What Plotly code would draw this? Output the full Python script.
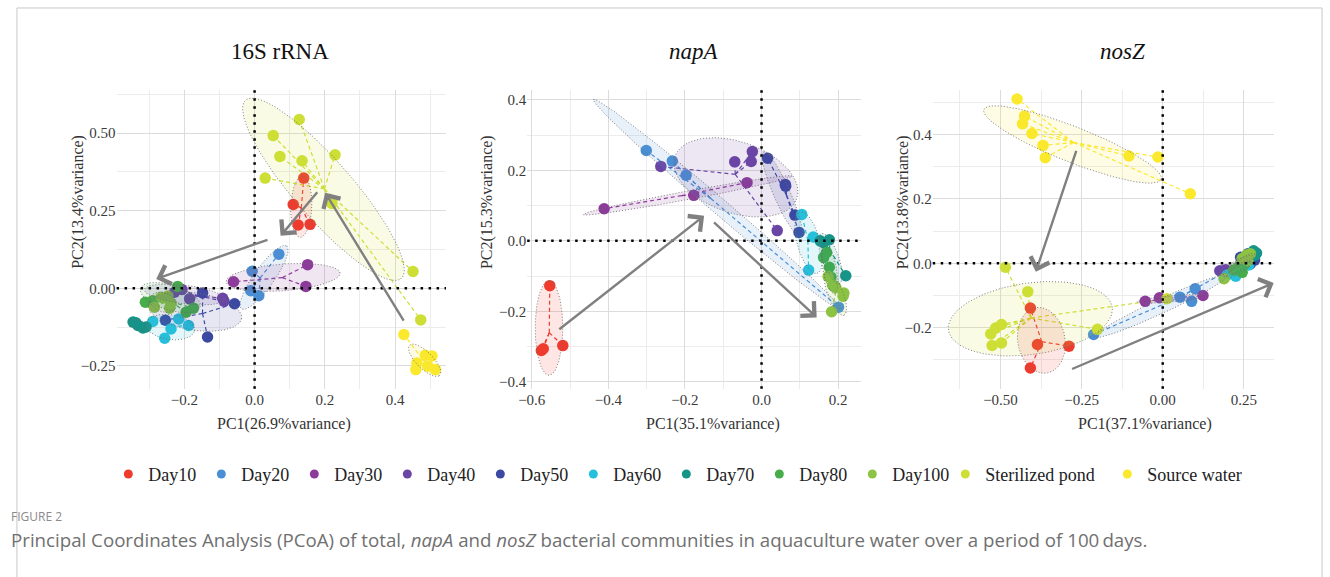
import numpy as np
import plotly.graph_objects as go

W, H = 1330, 577

GROUPS = ["Day10", "Day20", "Day30", "Day40", "Day50", "Day60", "Day70",
          "Day80", "Day100", "Sterilized pond", "Source water"]
COLORS = {
    "Day10": "#ee3b2e", "Day20": "#4a8fd4", "Day30": "#8d3b9b", "Day40": "#6b45a6",
    "Day50": "#3b49a3", "Day60": "#27c0dc", "Day70": "#159488", "Day80": "#46ad4a",
    "Day100": "#8cc343", "Sterilized pond": "#cddf34", "Source water": "#fbe92d",
}

# ---------------- 16S rRNA ----------------
S16_X = {
    "Day10": [0.140, 0.110, 0.124, 0.158],
    "Day20": [0.069, -0.007, -0.011, 0.012],
    "Day30": [0.151, -0.060, 0.146],
    "Day40": [-0.228, -0.207, -0.185, -0.091, -0.087],
    "Day50": [-0.148, -0.057, -0.134, -0.254],
    "Day60": [-0.290, -0.216, -0.238, -0.188, -0.256],
    "Day70": [-0.346, -0.332, -0.318, -0.309, -0.338],
    "Day80": [-0.219, -0.311, -0.290, -0.174, -0.195],
    "Day100": [-0.266, -0.238, -0.242, -0.285, -0.247],
    "Sterilized pond": [0.127, 0.053, 0.072, 0.135, 0.229, 0.030, 0.220, 0.451, 0.473],
    "Source water": [0.425, 0.486, 0.505, 0.462, 0.493, 0.459, 0.515],
}
S16_Y = {
    "Day10": [0.355, 0.270, 0.204, 0.206],
    "Day20": [0.110, 0.055, -0.008, -0.024],
    "Day30": [0.076, 0.021, 0.006],
    "Day40": [-0.013, -0.004, -0.034, -0.032, -0.042],
    "Day50": [-0.015, -0.050, -0.157, -0.103],
    "Day60": [-0.107, -0.099, -0.131, -0.120, -0.161],
    "Day70": [-0.109, -0.120, -0.128, -0.125, -0.111],
    "Day80": [0.006, -0.045, -0.040, -0.064, -0.077],
    "Day100": [-0.029, -0.048, -0.064, -0.061, -0.025],
    "Sterilized pond": [0.544, 0.492, 0.425, 0.411, 0.430, 0.355, 0.273, 0.054, -0.102],
    "Source water": [-0.149, -0.216, -0.218, -0.241, -0.251, -0.262, -0.262],
}
# ellipse: centre x, centre y, semi-axis a, semi-axis b, angle (deg)
S16_ELL = {
    "Sterilized pond": (0.196, 0.319, 0.363, 0.087, -52.8),
    "Day10": (0.133, 0.263, 0.099, 0.030, 88),
    "Day20": (0.027, 0.035, 0.120, 0.030, 58),
    "Day30": (0.081, 0.035, 0.163, 0.043, 5),
    "Day40": (-0.200, -0.020, 0.115, 0.030, -8),
    "Day50": (-0.170, -0.075, 0.135, 0.060, -10),
    "Day60": (-0.240, -0.125, 0.070, 0.040, -10),
    "Day70": (-0.330, -0.118, 0.030, 0.015, -20),
    "Day80": (-0.240, -0.030, 0.090, 0.040, -20),
    "Day100": (-0.260, -0.045, 0.040, 0.030, -30),
    "Source water": (0.484, -0.232, 0.065, 0.025, -50),
}
S16_ARROWS = [(0.427, -0.109, 0.201, 0.308), (0.182, 0.314, 0.074, 0.169),
              (0.041, 0.158, -0.280, 0.030)]

# ---------------- napA ----------------
NAPA_X = {
    "Day10": [-0.553, -0.575, -0.570, -0.519],
    "Day20": [-0.301, -0.233, -0.197, 0.201],
    "Day30": [-0.411, -0.177, -0.038],
    "Day40": [-0.263, -0.070, -0.024, -0.027, 0.041],
    "Day50": [0.016, 0.062, 0.063, 0.087, 0.098],
    "Day60": [0.105, 0.135, 0.123],
    "Day70": [0.153, 0.177, 0.162, 0.220],
    "Day80": [0.170, 0.162, 0.177, 0.181, 0.187],
    "Day100": [0.174, 0.186, 0.194, 0.215, 0.213, 0.183],
}
NAPA_Y = {
    "Day10": [-0.127, -0.311, -0.306, -0.297],
    "Day20": [0.256, 0.226, 0.186, -0.188],
    "Day30": [0.091, 0.129, 0.165],
    "Day40": [0.211, 0.224, 0.253, 0.225, 0.029],
    "Day50": [0.234, 0.160, 0.155, 0.073, 0.024],
    "Day60": [0.075, 0.011, -0.083],
    "Day70": [0.000, 0.003, -0.005, -0.099],
    "Day80": [-0.033, -0.047, -0.075, -0.103, -0.127],
    "Day100": [-0.101, -0.125, -0.132, -0.148, -0.157, -0.201],
}
NAPA_ELL = {
    "Day10": (-0.555, -0.247, 0.134, 0.036, 90),
    "Day20": (-0.117, 0.104, 0.438, 0.022, -42.7),
    "Day30": (-0.193, 0.129, 0.278, 0.012, 11.3),
    "Day40": (-0.067, 0.180, 0.170, 0.100, -22),
    "Day50": (0.054, 0.132, 0.130, 0.022, -68),
    "Day60": (0.123, -0.005, 0.090, 0.030, -76),
    "Day70": (0.180, -0.050, 0.075, 0.022, -72),
    "Day80": (0.178, -0.080, 0.070, 0.018, -80),
    "Day100": (0.193, -0.150, 0.065, 0.020, -70),
}
NAPA_ARROWS = [(-0.532, -0.254, -0.150, 0.071), (-0.128, 0.056, 0.144, -0.217)]

# ---------------- nosZ ----------------
NOSZ_X = {
    "Day10": [-0.408, -0.386, -0.289, -0.408],
    "Day20": [-0.213, 0.053, 0.100, 0.089, 0.250],
    "Day30": [-0.054, -0.010, 0.124],
    "Day40": [0.176, 0.194, 0.255, 0.263],
    "Day50": [0.240, 0.270, 0.263, 0.283],
    "Day60": [0.199, 0.230, 0.225, 0.265],
    "Day70": [0.280, 0.289, 0.272, 0.285],
    "Day80": [0.219, 0.245, 0.235, 0.255],
    "Day100": [0.189, 0.258, 0.262, 0.245, 0.270],
    "Sterilized pond": [-0.485, -0.416, -0.497, -0.515, -0.530, -0.497, -0.526, -0.201, 0.013],
    "Source water": [-0.449, -0.426, -0.432, -0.403, -0.369, -0.362, -0.104, -0.015, 0.085],
}
NOSZ_Y = {
    "Day10": [-0.139, -0.252, -0.257, -0.325],
    "Day20": [-0.221, -0.105, -0.079, -0.118, 0.005],
    "Day30": [-0.118, -0.107, -0.100],
    "Day40": [-0.023, -0.020, 0.010, 0.005],
    "Day50": [0.019, -0.002, 0.030, 0.010],
    "Day60": [-0.036, -0.028, -0.040, -0.005],
    "Day70": [0.039, 0.032, 0.022, 0.025],
    "Day80": [-0.021, -0.028, -0.010, 0.000],
    "Day100": [-0.048, 0.026, 0.008, 0.015, 0.030],
    "Sterilized pond": [-0.012, -0.088, -0.190, -0.201, -0.219, -0.247, -0.255, -0.205, -0.110],
    "Source water": [0.510, 0.457, 0.433, 0.403, 0.366, 0.328, 0.333, 0.330, 0.216],
}
NOSZ_ELL = {
    "Source water": (-0.278, 0.369, 0.294, 0.055, -21.7),
    "Sterilized pond": (-0.408, -0.172, 0.255, 0.111, 8),
    "Day10": (-0.374, -0.239, 0.103, 0.073, 100),
    "Day20": (-0.005, -0.133, 0.225, 0.022, 25),
    "Day30": (0.030, -0.110, 0.110, 0.010, 5),
    "Day40": (0.225, -0.005, 0.060, 0.012, 28),
    "Day60": (0.235, -0.020, 0.045, 0.012, 30),
    "Day80": (0.240, -0.012, 0.035, 0.012, 30),
    "Day100": (0.235, -0.005, 0.060, 0.014, 35),
}
NOSZ_ARROWS = [(-0.265, 0.354, -0.391, -0.026), (-0.284, -0.330, 0.342, -0.061)]

PANELS = [
    dict(X=S16_X, Y=S16_Y, ELL=S16_ELL, ARR=S16_ARROWS, ax="", title="16S rRNA",
         xtitle="PC1(26.9%variance)", ytitle="PC2(13.4%variance)",
         xrange=[-0.393, 0.545], yrange=[-0.3235, 0.640],
         xticks=[-0.2, 0.0, 0.2, 0.4], xlabels=["\u22120.2", "0.0", "0.2", "0.4"], xminor=0.1,
         yticks=[-0.25, 0.0, 0.25, 0.5], ylabels=["\u22120.25", "0.00", "0.25", "0.50"], yminor=0.125,
         px=(108.3, 440.0), title_x=273, xt_x=277, yt_x=70),
    dict(X=NAPA_X, Y=NAPA_Y, ELL=NAPA_ELL, ARR=NAPA_ARROWS, ax="2", title="<i>napA</i>",
         xtitle="PC1(35.1%variance)", ytitle="PC2(15.3%variance)",
         xrange=[-0.612, 0.261], yrange=[-0.419, 0.4285],
         xticks=[-0.6, -0.4, -0.2, 0.0, 0.2], xlabels=["\u22120.6", "\u22120.4", "\u22120.2", "0.0", "0.2"], xminor=0.1,
         yticks=[-0.4, -0.2, 0.0, 0.2, 0.4], ylabels=["\u22120.4", "\u22120.2", "0.0", "0.2", "0.4"], yminor=0.1,
         px=(521.7, 858.3), title_x=690, xt_x=709, yt_x=482),
    dict(X=NOSZ_X, Y=NOSZ_Y, ELL=NOSZ_ELL, ARR=NOSZ_ARROWS, ax="3", title="<i>nosZ</i>",
         xtitle="PC1(37.1%variance)", ytitle="PC2(13.8%variance)",
         xrange=[-0.709, 0.342], yrange=[-0.389, 0.539],
         xticks=[-0.5, -0.25, 0.0, 0.25], xlabels=["\u22120.50", "\u22120.25", "0.00", "0.25"], xminor=0.125,
         yticks=[-0.2, 0.0, 0.2, 0.4], ylabels=["\u22120.2", "0.0", "0.2", "0.4"], yminor=0.1,
         px=(930.0, 1273.3), title_x=1121, xt_x=1144, yt_x=900),
]

SERIF = "Liberation Serif, Times New Roman, serif"
TOP_PX, BOT_PX = 90, 390


def rgba(hexc, a):
    h = hexc.lstrip("#")
    return "rgba(%d,%d,%d,%.3f)" % (int(h[0:2], 16), int(h[2:4], 16), int(h[4:6], 16), a)


fig = go.Figure()
layout = dict(width=W, height=H, margin=dict(l=0, r=0, t=0, b=0),
              paper_bgcolor="white", plot_bgcolor="white", showlegend=True)
annotations = []
shapes = []

t = np.linspace(0, 2 * np.pi, 121)
for p in PANELS:
    xa, ya = "x" + p["ax"], "y" + p["ax"]
    X, Y = p["X"], p["Y"]
    # spider lines (centroid -> point)
    for g in GROUPS:
        if g not in X:
            continue
        cx, cy = np.mean(X[g]), np.mean(Y[g])
        lx, ly = [], []
        for xv, yv in zip(X[g], Y[g]):
            lx += [cx, xv, None]
            ly += [cy, yv, None]
        fig.add_trace(go.Scatter(x=lx, y=ly, mode="lines", xaxis=xa, yaxis=ya,
                                 line=dict(color=COLORS[g], width=1.2, dash="4px,3px"),
                                 showlegend=False, hoverinfo="skip"))
    # points
    for g in GROUPS:
        if g not in X:
            continue
        fig.add_trace(go.Scatter(x=X[g], y=Y[g], mode="markers", xaxis=xa, yaxis=ya,
                                 marker=dict(color=COLORS[g], size=11.5, line=dict(width=0)),
                                 showlegend=False, name=g))
    # ellipses
    for g, (ecx, ecy, ea, eb, ang) in p["ELL"].items():
        th = np.deg2rad(ang)
        ex = ecx + ea * np.cos(t) * np.cos(th) - eb * np.sin(t) * np.sin(th)
        ey = ecy + ea * np.cos(t) * np.sin(th) + eb * np.sin(t) * np.cos(th)
        fig.add_trace(go.Scatter(x=ex, y=ey, mode="lines", xaxis=xa, yaxis=ya, fill="toself",
                                 fillcolor=rgba(COLORS[g], 0.13),
                                 line=dict(color="#6e6e6e", width=0.9, dash="1px,2px"),
                                 showlegend=False, hoverinfo="skip"))
    # axes
    dom_x = [p["px"][0] / W, p["px"][1] / W]
    dom_y = [(H - BOT_PX) / H, (H - TOP_PX) / H]
    axkey = p["ax"]
    layout["xaxis" + axkey] = dict(
        domain=dom_x, range=p["xrange"], anchor=ya, tickmode="array",
        tickvals=p["xticks"], ticktext=p["xlabels"], showgrid=True, gridcolor="#dcdcdc",
        gridwidth=1, zeroline=False, showline=False, ticks="",
        tickfont=dict(family=SERIF, size=15, color="#3a3a3a"),
        minor=dict(dtick=p["xminor"], tick0=0, showgrid=True, gridcolor="#ececec", gridwidth=1),
    )
    layout["yaxis" + axkey] = dict(
        domain=dom_y, range=p["yrange"], anchor=xa, tickmode="array",
        tickvals=p["yticks"], ticktext=p["ylabels"], showgrid=True, gridcolor="#dcdcdc",
        gridwidth=1, zeroline=False, showline=False, ticks="",
        tickfont=dict(family=SERIF, size=15, color="#3a3a3a"),
        minor=dict(dtick=p["yminor"], tick0=0, showgrid=True, gridcolor="#ececec", gridwidth=1),
    )
    # dotted zero lines
    shapes.append(dict(type="line", xref=xa, yref=ya + " domain", x0=0, x1=0, y0=0, y1=1,
                       line=dict(color="black", width=2.5, dash="2.5px,5.5px"), layer="above"))
    shapes.append(dict(type="line", xref=xa + " domain", yref=ya, x0=0, x1=1, y0=0, y1=0,
                       line=dict(color="black", width=2.5, dash="2.5px,5.5px"), layer="above"))
    # arrows
    for (x0, y0, x1, y1) in p["ARR"]:
        annotations.append(dict(x=x1, y=y1, ax=x0, ay=y0, xref=xa, yref=ya, axref=xa, ayref=ya,
                                showarrow=True, arrowhead=4, arrowsize=1.6, arrowwidth=2.4,
                                arrowcolor="#808080", text=""))
    # titles
    annotations.append(dict(x=p["title_x"] / W, y=1 - 52 / H, xref="paper", yref="paper",
                            xanchor="center", yanchor="middle",
                            text=p["title"], showarrow=False,
                            font=dict(family=SERIF, size=23, color="#111111")))
    annotations.append(dict(x=p["xt_x"] / W, y=1 - 425 / H, xref="paper", yref="paper",
                            xanchor="center", yanchor="middle",
                            text=p["xtitle"], showarrow=False,
                            font=dict(family=SERIF, size=16, color="#333333")))
    annotations.append(dict(x=p["yt_x"] / W, y=1 - 203 / H, xref="paper", yref="paper",
                            xanchor="center", yanchor="middle",
                            text=p["ytitle"], showarrow=False, textangle=-90,
                            font=dict(family=SERIF, size=16, color="#333333")))

# legend-only entries
LEG_W = {"Sterilized pond": 117, "Source water": 100}
for g in GROUPS:
    fig.add_trace(go.Scatter(x=[None], y=[None], mode="markers", name=g,
                             marker=dict(color=COLORS[g], size=9),
                             legendwidth=LEG_W.get(g, 48), showlegend=True))

layout["legend"] = dict(orientation="h", x=100 / W, xanchor="left", y=1 - 476 / H,
                        yanchor="middle", font=dict(family=SERIF, size=18, color="#222222"),
                        bgcolor="rgba(0,0,0,0)", itemclick=False, itemdoubleclick=False)

# caption
annotations.append(dict(x=0, y=1 - 518 / H, xref="paper", yref="paper", xanchor="left",
                        yanchor="middle", text="FIGURE 2", showarrow=False,
                        font=dict(family="Open Sans", size=12, color="#8a8a8a")))
annotations.append(dict(x=0, y=1 - 541 / H, xref="paper", yref="paper", xanchor="left",
                        yanchor="middle",
                        text="Principal Coordinates Analysis (PCoA) of total, <i>napA</i> and "
                             "<i>nosZ</i> bacterial communities in aquaculture water over a "
                             "period of 100\u2009days.",
                        showarrow=False, font=dict(family="Open Sans", size=18.7, color="#707070")))

# frame
shapes.append(dict(type="path", xref="paper", yref="paper",
                   path="M %f,-0.05 L %f,%f L %f,%f L %f,-0.05" % (
                       8 / W, 8 / W, 1 - 8 / H, 1322 / W, 1 - 8 / H, 1322 / W),
                   line=dict(color="#c8c8c8", width=1), layer="above"))

layout["annotations"] = annotations
layout["shapes"] = shapes
fig.update_layout(**layout)
fig.write_html("out.html")
